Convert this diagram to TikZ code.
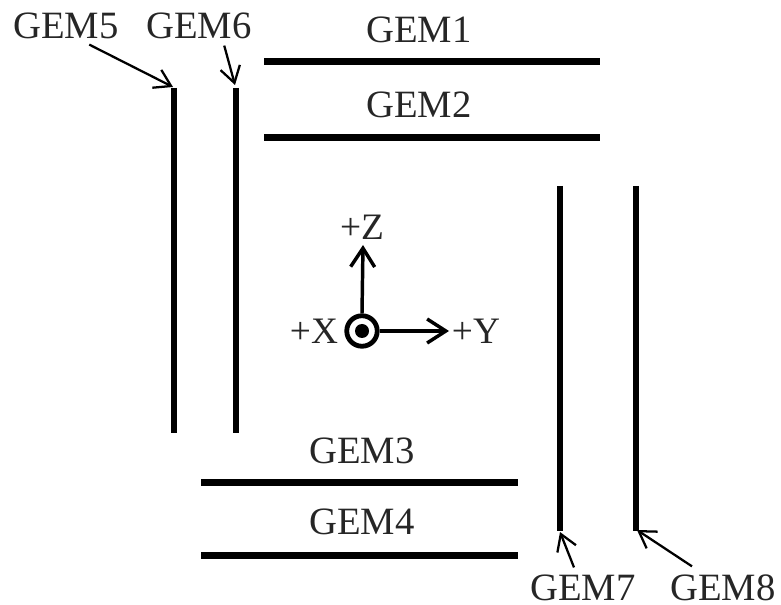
\documentclass[tikz,border=0pt]{standalone}
\usepackage{fontspec}
\setmainfont{Liberation Serif}
\usetikzlibrary{arrows.meta}

\begin{document}
\begin{tikzpicture}[x=0.75pt,y=-0.75pt,
  gembar/.style={line width=5pt},
  gemlabel/.style={font=\fontsize{29}{30}\selectfont, inner sep=1pt, text=black!85},
  axislabel/.style={font=\fontsize{28}{30}\selectfont, inner sep=1pt, text=black!85},
  pointer/.style={line width=1.7pt, -{Straight Barb[length=12pt,width=15pt,line width=1.7pt]}},
  axisarrow/.style={line width=2.6pt, -{Straight Barb[length=14pt,width=18pt,line width=2.6pt]}}]

% Area del disegno
\useasboundingbox (0,0) rectangle (781,605);

% Estremi delle lastre
\coordinate (gemOneL) at (264,61.5);
\coordinate (gemOneR) at (600,61.5);
\coordinate (gemTwoL) at (264,137.5);
\coordinate (gemTwoR) at (600,137.5);
\coordinate (gemThreeL) at (201,482.5);
\coordinate (gemThreeR) at (518,482.5);
\coordinate (gemFourL) at (201,555.5);
\coordinate (gemFourR) at (518,555.5);
\coordinate (gemFiveT) at (174,88);
\coordinate (gemFiveB) at (174,433);
\coordinate (gemSixT) at (236,88);
\coordinate (gemSixB) at (236,433);
\coordinate (gemSevenT) at (560,186);
\coordinate (gemSevenB) at (560,531);
\coordinate (gemEightT) at (636,186);
\coordinate (gemEightB) at (636,531);

% Lastre
\draw[gembar] (gemOneL) -- (gemOneR);
\draw[gembar] (gemTwoL) -- (gemTwoR);
\draw[gembar] (gemThreeL) -- (gemThreeR);
\draw[gembar] (gemFourL) -- (gemFourR);
\draw[gembar] (gemFiveT) -- (gemFiveB);
\draw[gembar] (gemSixT) -- (gemSixB);
\draw[gembar] (gemSevenT) -- (gemSevenB);
\draw[gembar] (gemEightT) -- (gemEightB);

% Etichette
\node[gemlabel] (lblOne) at (419,30) {GEM1};
\node[gemlabel] (lblTwo) at (419,105) {GEM2};
\node[gemlabel] (lblThree) at (362,451) {GEM3};
\node[gemlabel] (lblFour) at (362,522) {GEM4};
\node[gemlabel] (lblFive) at (66,26) {GEM5};
\node[gemlabel] (lblSix) at (199,26) {GEM6};
\node[gemlabel] (lblSeven) at (583,588) {GEM7};
\node[gemlabel] (lblEight) at (723,588) {GEM8};

% Frecce delle etichette
\coordinate (tipFive) at (173,87);
\coordinate (tipSix) at (235,85);
\coordinate (tipSeven) at (560,532);
\coordinate (tipEight) at (637,530);
\draw[pointer] ([shift={(-31,4)}]lblFive.south east) -- (tipFive);
\draw[pointer] ([shift={(-29,5)}]lblSix.south east) -- (tipSix);
\draw[pointer] ([shift={(-9,-6)}]lblSeven.north) -- (tipSeven);
\draw[pointer] ([shift={(-31,-7)}]lblEight.north) -- (tipEight);

% Assi
\node[circle, draw, line width=3.6pt, minimum size=30.5pt*0.75, inner sep=0pt] (origin) at (362,331) {};
\node[circle, fill, minimum size=14pt*0.75, inner sep=0pt] (originDot) at (362,331) {};
\coordinate (tipZ) at (363,245);
\coordinate (tipY) at (449,331);
\draw[axisarrow] (origin.north) -- (tipZ);
\draw[axisarrow] (origin.east) -- (tipY);

\node[axislabel] (lblZ) at (362,227) {+Z};
\node[axislabel] (lblX) at (314,331) {+X};
\node[axislabel] (lblY) at (476,331) {+Y};

\end{tikzpicture}
\end{document}
